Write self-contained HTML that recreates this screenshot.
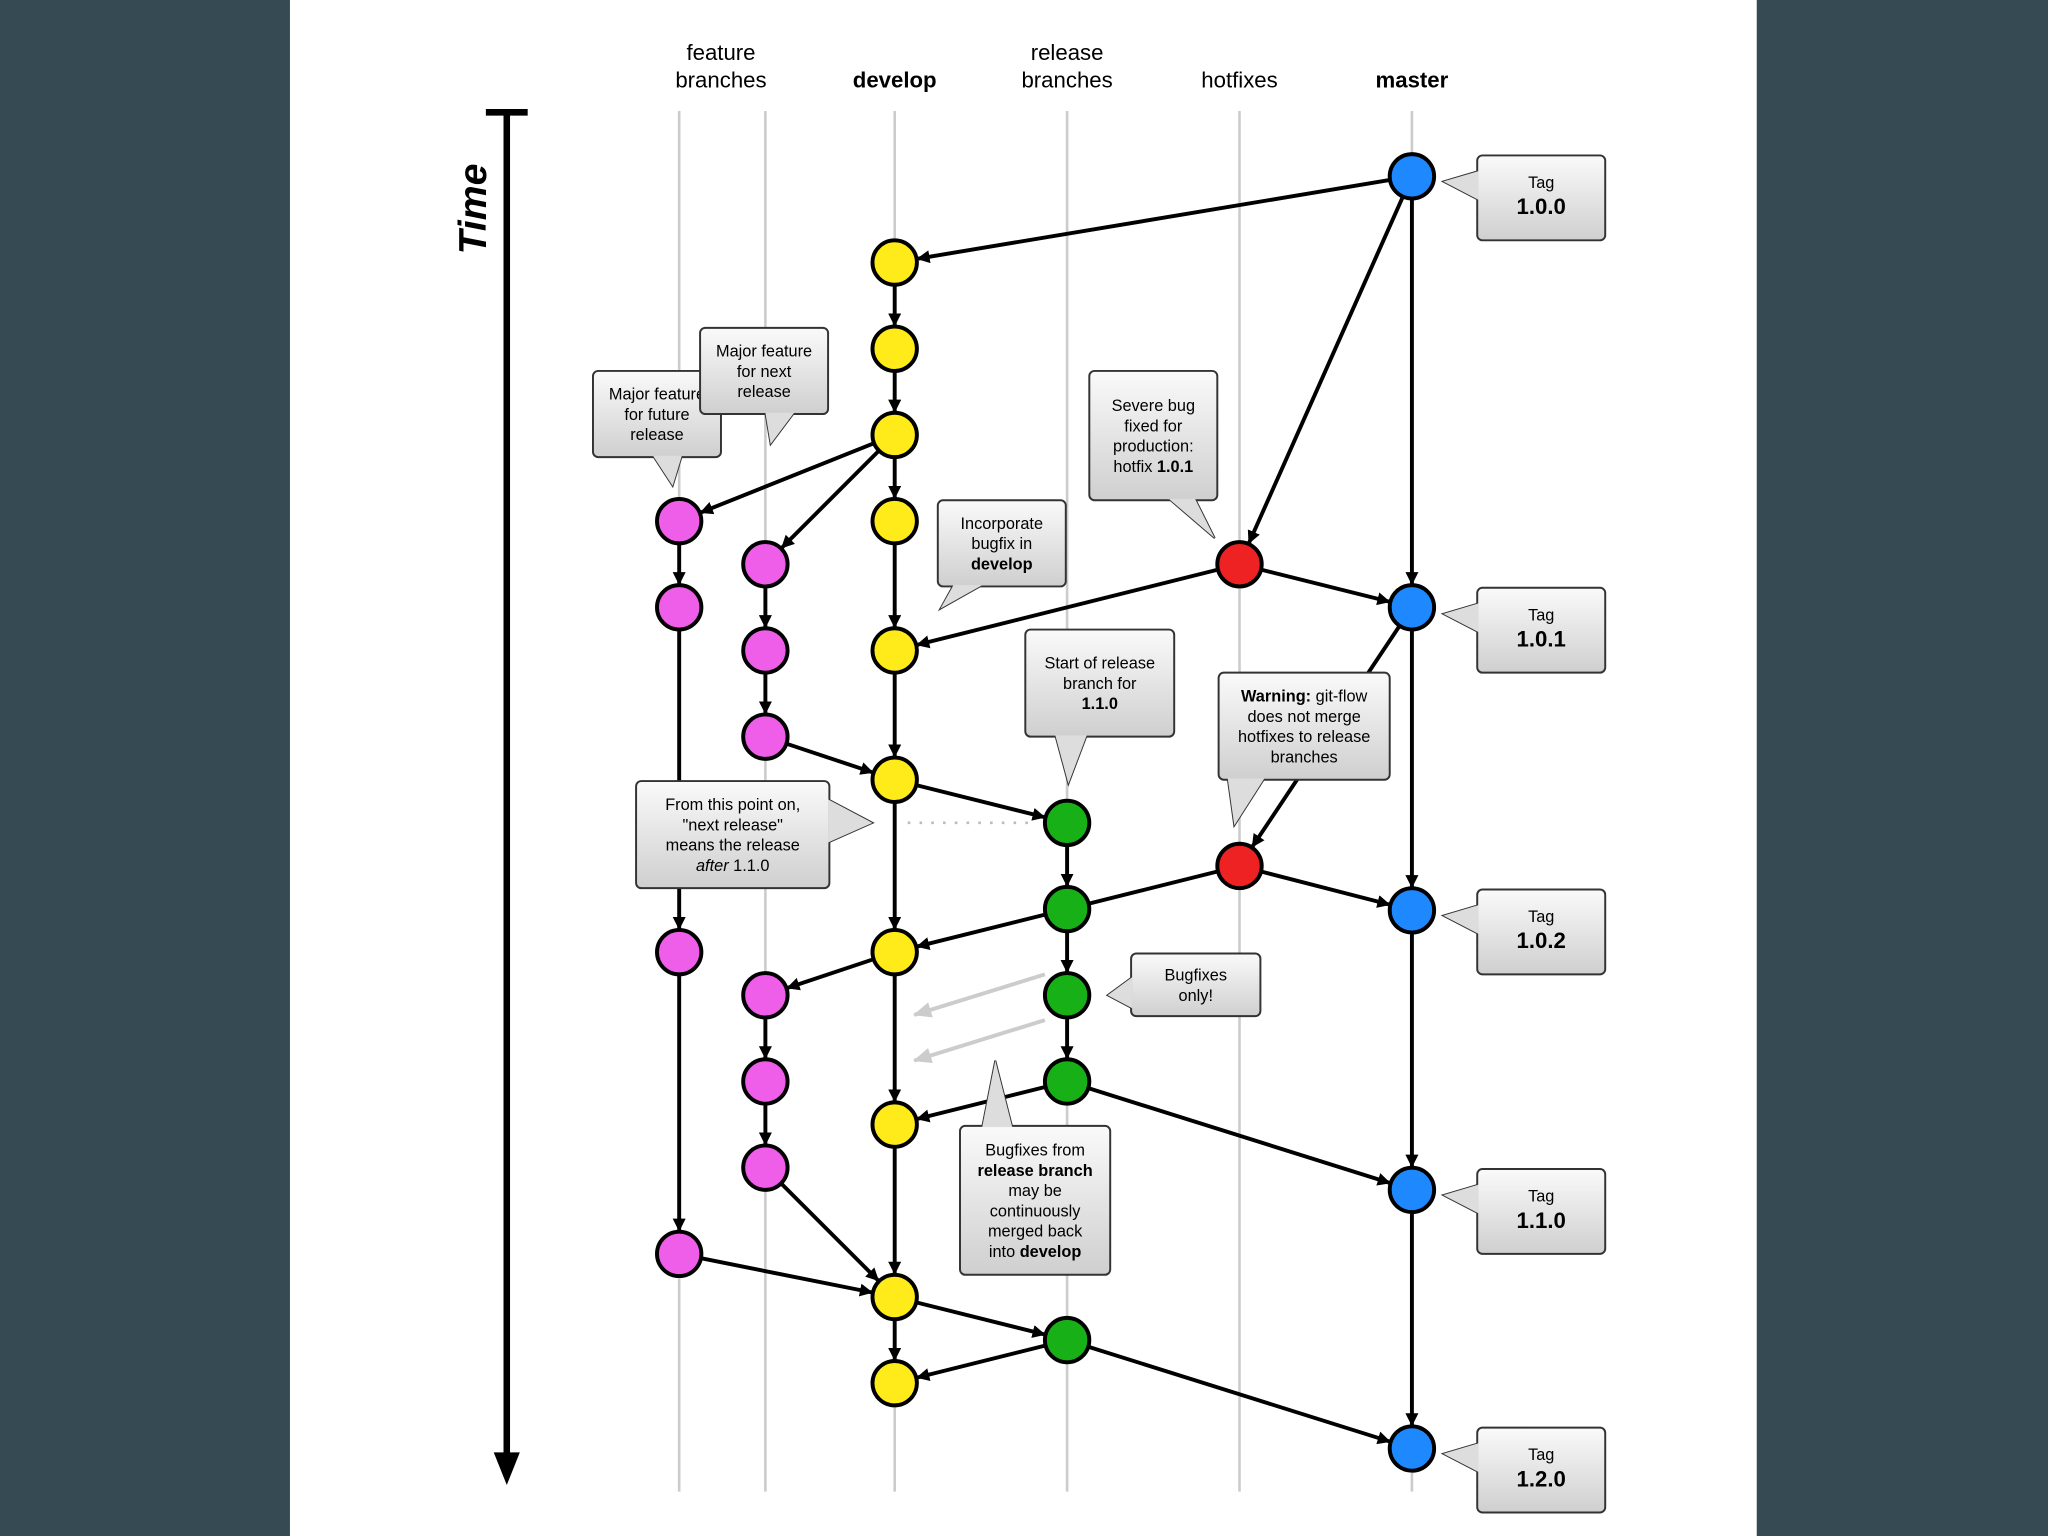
<!DOCTYPE html>
<html><head><meta charset="utf-8"><style>
html,body{margin:0;padding:0;background:#364a54;}
svg{display:block;font-family:"Liberation Sans",sans-serif;}
</style></head><body>
<svg id="s" width="2048" height="1536" viewBox="0 0 1568 1176" xmlns="http://www.w3.org/2000/svg">
<defs>
<marker id="ah" markerWidth="10" markerHeight="10" refX="9" refY="5" orient="auto" markerUnits="userSpaceOnUse"><path d="M0,0 L10,5 L0,10 z" fill="#000"/></marker>
<marker id="ahg" markerWidth="14" markerHeight="12" refX="13" refY="6" orient="auto" markerUnits="userSpaceOnUse"><path d="M0,0 L14,6 L0,12 z" fill="#ccc"/></marker>
<linearGradient id="bg" x1="0" y1="0" x2="0" y2="1"><stop offset="0" stop-color="#fafafa"/><stop offset="1" stop-color="#cfcfcf"/></linearGradient>
</defs>
<rect x="0" y="0" width="1568" height="1176" fill="#364a54"/>
<rect x="222" y="0" width="1123" height="1176" fill="#fff"/>
<g id="lanes" stroke="#ccc" stroke-width="2">
<line x1="520" y1="85" x2="520" y2="1142"/><line x1="586" y1="85" x2="586" y2="1142"/>
<line x1="685" y1="85" x2="685" y2="1142"/><line x1="817" y1="85" x2="817" y2="1142"/>
<line x1="949" y1="85" x2="949" y2="1142"/><line x1="1081" y1="85" x2="1081" y2="1142"/>
</g>
<g font-size="17" text-anchor="middle" fill="#000">
<text x="552" y="46">feature</text><text x="552" y="67">branches</text>
<text x="685" y="67" font-weight="bold">develop</text>
<text x="817" y="46">release</text><text x="817" y="67">branches</text>
<text x="949" y="67">hotfixes</text>
<text x="1081" y="67" font-weight="bold">master</text>
</g>
<line x1="372" y1="86" x2="404" y2="86" stroke="#000" stroke-width="5"/>
<line x1="388" y1="86" x2="388" y2="1118" stroke="#000" stroke-width="5"/>
<path d="M378,1112 L398,1112 L388,1137 z" fill="#000"/>
<text transform="translate(372,160) rotate(-90)" font-size="30" font-weight="bold" font-style="italic" text-anchor="middle">Time</text>
<line x1="695" y1="630" x2="790" y2="630" stroke="#bbb" stroke-width="2" stroke-dasharray="2,7"/>
<line x1="800" y1="746" x2="700" y2="777" stroke="#ccc" stroke-width="3" marker-end="url(#ahg)"/>
<line x1="800" y1="781" x2="700" y2="812" stroke="#ccc" stroke-width="3" marker-end="url(#ahg)"/>
<g id="edges" stroke="#000" stroke-width="3" fill="none"></g>
<g id="callouts" font-size="12.5" text-anchor="middle"></g>
<g id="nodes" stroke="#000" stroke-width="3"></g>
</svg>
<script>
const NS="http://www.w3.org/2000/svg";
const X={f1:520,f2:586,d:685,r:817,h:949,m:1081};
const C={m:"#1e88ff",d:"#ffeb1a",f1:"#ef5ee8",f2:"#ef5ee8",r:"#17b017",h:"#ee2222"};
const N={m:[135,465,697,911,1109],d:[201,267,333,399,498,597,729,861,993,1059],f1:[399,465,729,960],f2:[432,498,564,762,828,894],r:[630,696,762,828,1026],h:[432,663]};
const R=17;
const E=[["m",135,"d",201],["m",135,"m",465],["m",135,"h",432],["h",432,"m",465],["h",432,"d",498],
["d",333,"f1",399],["d",333,"f2",432],["f1",399,"f1",465],["f1",465,"f1",729],["f1",729,"f1",960],
["f2",432,"f2",498],["f2",498,"f2",564],["f2",564,"d",597],["d",597,"r",630],
["r",630,"r",696],["r",696,"r",762],["r",762,"r",828],["m",465,"h",663],["m",465,"m",697],
["h",663,"m",697],["h",663,"d",729],["d",729,"f2",762],["f2",762,"f2",828],["f2",828,"f2",894],["f2",894,"d",993],
["r",828,"d",861],["r",828,"m",911],["m",697,"m",911],["m",911,"m",1109],["f1",960,"d",993],
["d",993,"r",1026],["r",1026,"d",1059],["r",1026,"m",1109]];
const dv=N.d;for(let i=0;i<dv.length-1;i++)E.push(["d",dv[i],"d",dv[i+1]]);
const eg=document.getElementById("edges");
for(const [a,ay,b,by] of E){const x1=X[a],x2=X[b];const dx=x2-x1,dy=by-ay,L=Math.hypot(dx,dy);
const l=document.createElementNS(NS,"line");
l.setAttribute("x1",x1+dx/L*R);l.setAttribute("y1",ay+dy/L*R);
l.setAttribute("x2",x2-dx/L*(R+1));l.setAttribute("y2",by-dy/L*(R+1));
l.setAttribute("marker-end","url(#ah)");eg.appendChild(l);}
const ng=document.getElementById("nodes");
for(const k in N)for(const y of N[k]){const c=document.createElementNS(NS,"circle");
c.setAttribute("cx",X[k]);c.setAttribute("cy",y);c.setAttribute("r",R);c.setAttribute("fill",C[k]);ng.appendChild(c);}
const cg=document.getElementById("callouts");
function call(x,y,w,h,tail,lines,big){
 const g=document.createElementNS(NS,"g");
 const t=document.createElementNS(NS,"polygon");t.setAttribute("points",tail.map(p=>p.join(",")).join(" "));
 t.setAttribute("fill","url(#bg)");t.setAttribute("stroke","#333");t.setAttribute("stroke-width","1.5");g.appendChild(t);
 const r=document.createElementNS(NS,"rect");r.setAttribute("x",x);r.setAttribute("y",y);r.setAttribute("width",w);r.setAttribute("height",h);
 r.setAttribute("rx",4);r.setAttribute("fill","url(#bg)");r.setAttribute("stroke","#333");r.setAttribute("stroke-width","1.5");g.appendChild(r);
 const t2=document.createElementNS(NS,"polygon");t2.setAttribute("points",tail.map(p=>p.join(",")).join(" "));t2.setAttribute("fill","#ddd");g.appendChild(t2);
 const cx=x+w/2;let ty=y+h/2-(lines.length-1)*7.75+4.5;
 if(big){const a=document.createElementNS(NS,"text");a.setAttribute("x",cx);a.setAttribute("y",y+25);a.textContent="Tag";g.appendChild(a);
  const b=document.createElementNS(NS,"text");b.setAttribute("x",cx);b.setAttribute("y",y+45);b.setAttribute("font-size","17");b.setAttribute("font-weight","bold");b.textContent=big;g.appendChild(b);}
 else for(const ln of lines){const te=document.createElementNS(NS,"text");te.setAttribute("x",cx);te.setAttribute("y",ty);te.innerHTML=ln;g.appendChild(te);ty+=15.5;}
 cg.appendChild(g);}
for(const [y,v] of [[119,"1.0.0"],[450,"1.0.1"],[681,"1.0.2"],[895,"1.1.0"],[1093,"1.2.0"]])
 call(1131,y,98,65,[[1132,y+12],[1105,y+20],[1132,y+34]],[],v);
call(454,284,98,66,[[500,349],[515,372],[522,349]],["Major feature","for future","release"]);
call(536,251,98,66,[[586,316],[590,340],[608,316]],["Major feature","for next","release"]);
call(834,284,98,99,[[895,382],[930,412],[915,382]],["Severe bug","fixed for","production:","hotfix <tspan font-weight='bold'>1.0.1</tspan>"]);
call(718,383,98,66,[[730,448],[720,466],[752,448]],["Incorporate","bugfix in","<tspan font-weight='bold'>develop</tspan>"]);
call(785,482,114,82,[[808,563],[818,600],[832,563]],["Start of release","branch for","<tspan font-weight='bold'>1.1.0</tspan>"]);
call(933,515,131,82,[[940,596],[945,632],[968,596]],["<tspan font-weight='bold'>Warning:</tspan> git-flow","does not merge","hotfixes to release","branches"]);
call(487,598,148,82,[[634,612],[668,630],[634,645]],["From this point on,","\"next release\"","means the release","<tspan font-style='italic'>after</tspan> 1.1.0"]);
call(866,730,99,48,[[867,748],[848,762],[867,772]],["Bugfixes","only!"]);
call(735,862,115,114,[[752,863],[762,812],[775,863]],["Bugfixes from","<tspan font-weight='bold'>release branch</tspan>","may be","continuously","merged back","into <tspan font-weight='bold'>develop</tspan>"]);
</script>
</body></html>
